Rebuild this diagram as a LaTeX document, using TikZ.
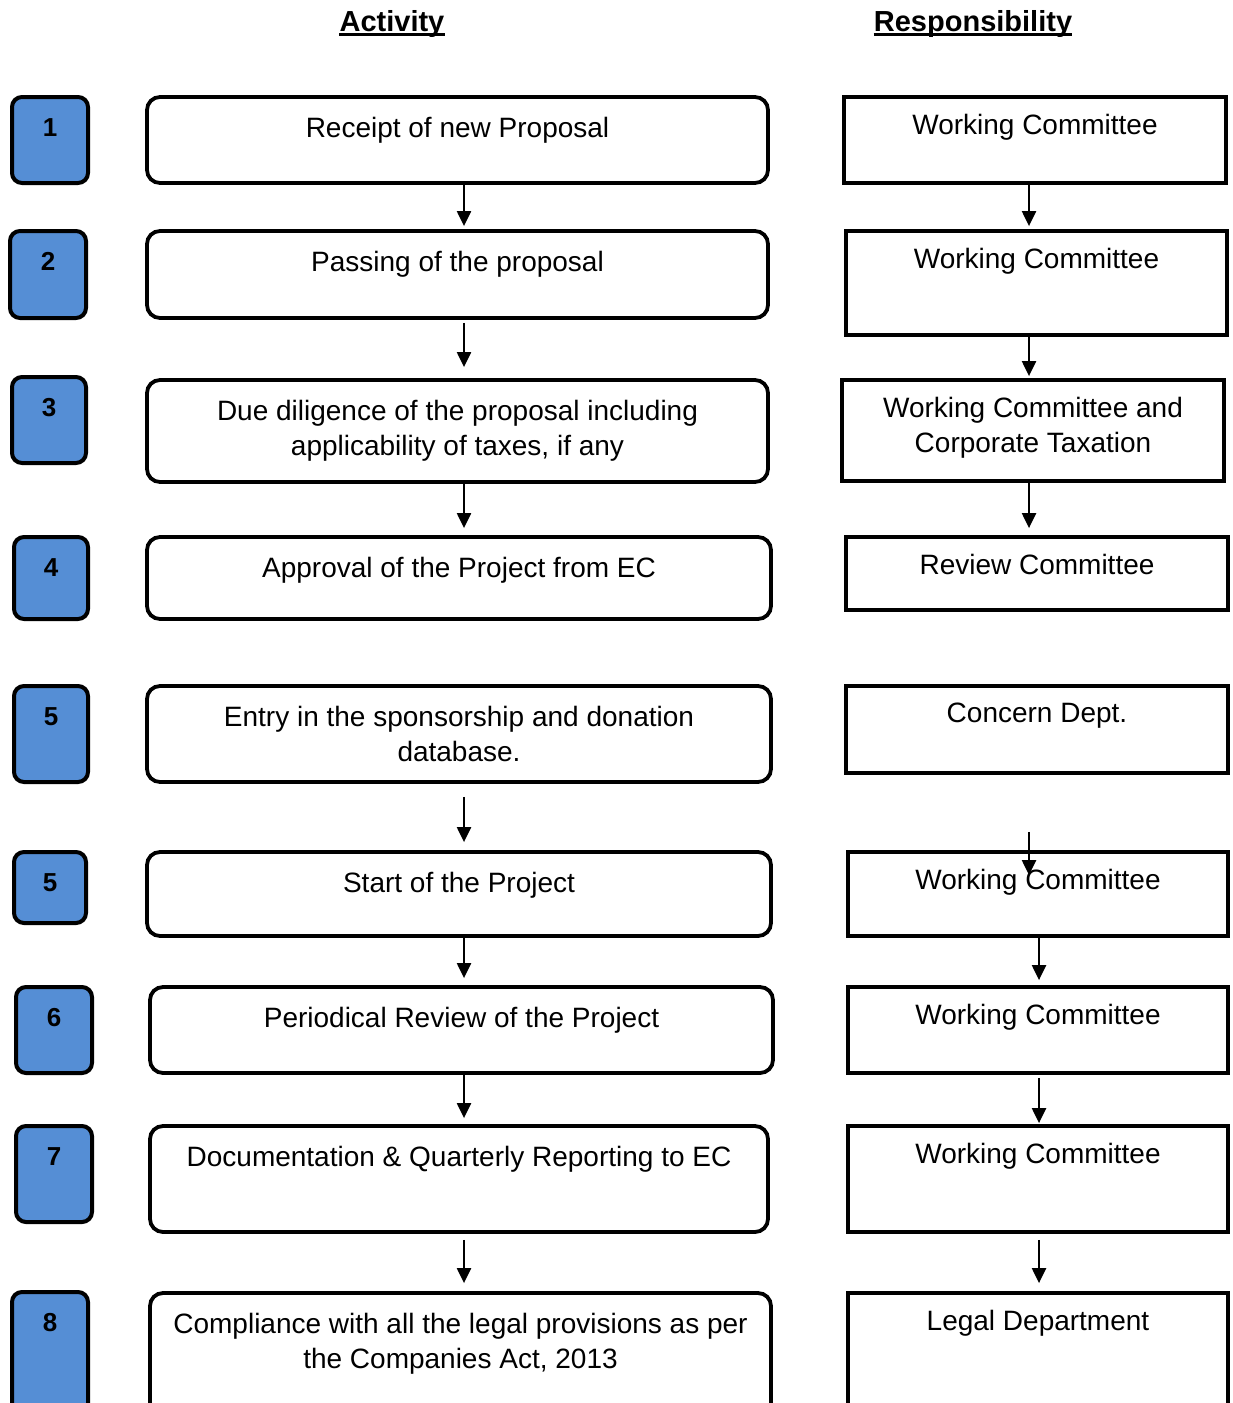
\documentclass[tikz,border=0pt]{standalone}
\usepackage{fontspec}
\setmainfont{Liberation Sans}
\usepackage{tikz}
\usetikzlibrary{positioning}
\usetikzlibrary{arrows.meta}
\definecolor{numblue}{RGB}{85,142,213}
\tikzset{>={Triangle[length=15pt 0 0,width=14pt 0 0]}}
\tikzset{numbox/.style={draw, line width=4pt, rounded corners=10pt, fill=numblue, inner sep=0pt},
  actbox/.style={draw, line width=3.8pt, rounded corners=13pt, inner sep=0pt},
  resbox/.style={draw, line width=3.8pt, inner sep=0pt},
  boxtext/.style={anchor=north, inner sep=0pt, align=center, font=\fontsize{28}{35}\selectfont},
  numtext/.style={anchor=north, inner sep=0pt, font=\bfseries\fontsize{26}{30}\selectfont},
  headtext/.style={anchor=base, inner sep=0pt, font=\bfseries\fontsize{29}{34}\selectfont},
  flow/.style={->, line width=2.2pt}}

\begin{document}
\begin{tikzpicture}[x=1pt, y=-1pt]
\useasboundingbox (0, 0) rectangle (1233, 1403);
\node[headtext] (hact) at (392, 31) {Activity};
\node[headtext] (hres) at (973, 31) {Responsibility};
\draw[line width=3pt] ([yshift=-3.5pt]hact.base west) -- ([yshift=-3.5pt]hact.base east);
\draw[line width=3pt] ([yshift=-3.5pt]hres.base west) -- ([yshift=-3.5pt]hres.base east);

\node[numbox, minimum width=76pt, minimum height=86pt] (n1) at (50, 140) {};
\node[numbox, minimum width=76pt, minimum height=87pt] (n2) at (48, 274.5) {};
\node[numbox, minimum width=74pt, minimum height=86pt] (n3) at (49, 420) {};
\node[numbox, minimum width=74pt, minimum height=82pt] (n4) at (51, 578) {};
\node[numbox, minimum width=74pt, minimum height=96pt] (n5) at (51, 734) {};
\node[numbox, minimum width=72pt, minimum height=71pt] (n6) at (50, 887.5) {};
\node[numbox, minimum width=76pt, minimum height=86pt] (n7) at (54, 1030) {};
\node[numbox, minimum width=76pt, minimum height=96pt] (n8) at (54, 1174) {};
\node[numbox, minimum width=76pt, minimum height=146pt] (n9) at (50, 1365) {};
\node[numtext] (k1) at ([yshift=-23pt]n1.north) {1};
\node[numtext] (k2) at ([yshift=-23pt]n2.north) {2};
\node[numtext] (k3) at ([yshift=-23pt]n3.north) {3};
\node[numtext] (k4) at ([yshift=-23pt]n4.north) {4};
\node[numtext] (k5) at ([yshift=-23pt]n5.north) {5};
\node[numtext] (k6) at ([yshift=-23pt]n6.north) {5};
\node[numtext] (k7) at ([yshift=-23pt]n7.north) {6};
\node[numtext] (k8) at ([yshift=-23pt]n8.north) {7};
\node[numtext] (k9) at ([yshift=-23pt]n9.north) {8};

\node[actbox, minimum width=621pt, minimum height=86pt] (a1) at (457.5, 140) {};
\node[actbox, minimum width=621pt, minimum height=87pt] (a2) at (457.5, 274.5) {};
\node[actbox, minimum width=621pt, minimum height=102pt] (a3) at (457.5, 431) {};
\node[actbox, minimum width=624pt, minimum height=82pt] (a4) at (459, 578) {};
\node[actbox, minimum width=624pt, minimum height=96pt] (a5) at (459, 734) {};
\node[actbox, minimum width=624pt, minimum height=84pt] (a6) at (459, 894) {};
\node[actbox, minimum width=623pt, minimum height=86pt] (a7) at (461.5, 1030) {};
\node[actbox, minimum width=618pt, minimum height=106pt] (a8) at (459, 1179) {};
\node[actbox, minimum width=621pt, minimum height=145pt] (a9) at (460.5, 1365.5) {};
\node[boxtext] (t1) at ([yshift=-22pt]a1.north) {Receipt of new Proposal};
\node[boxtext] (t2) at ([yshift=-22pt]a2.north) {Passing of the proposal};
\node[boxtext] (t3) at ([yshift=-22pt]a3.north) {Due diligence of the proposal including\\applicability of taxes, if any};
\node[boxtext] (t4) at ([yshift=-22pt]a4.north) {Approval of the Project from EC};
\node[boxtext] (t5) at ([yshift=-22pt]a5.north) {Entry in the sponsorship and donation\\database.};
\node[boxtext] (t6) at ([yshift=-22pt]a6.north) {Start of the Project};
\node[boxtext] (t7) at ([yshift=-22pt]a7.north) {Periodical Review of the Project};
\node[boxtext] (t8) at ([yshift=-22pt]a8.north) {Documentation \& Quarterly Reporting to EC};
\node[boxtext] (t9) at ([yshift=-22pt]a9.north) {Compliance with all the legal provisions as per\\the Companies Act, 2013};

\node[resbox, minimum width=382pt, minimum height=86pt] (b1) at (1035, 140) {};
\node[resbox, minimum width=381pt, minimum height=104pt] (b2) at (1036.5, 283) {};
\node[resbox, minimum width=382pt, minimum height=101pt] (b3) at (1033, 430.5) {};
\node[resbox, minimum width=382pt, minimum height=73pt] (b4) at (1037, 573.5) {};
\node[resbox, minimum width=382pt, minimum height=87pt] (b5) at (1037, 729.5) {};
\node[resbox, minimum width=380pt, minimum height=84pt] (b6) at (1038, 894) {};
\node[resbox, minimum width=380pt, minimum height=86pt] (b7) at (1038, 1030) {};
\node[resbox, minimum width=380pt, minimum height=106pt] (b8) at (1038, 1179) {};
\node[resbox, minimum width=380pt, minimum height=145pt] (b9) at (1038, 1365.5) {};
\node[boxtext] (s1) at ([yshift=-19pt]b1.north) {Working Committee};
\node[boxtext] (s2) at ([yshift=-19pt]b2.north) {Working Committee};
\node[boxtext] (s3) at ([yshift=-19pt]b3.north) {Working Committee and\\Corporate Taxation};
\node[boxtext] (s4) at ([yshift=-19pt]b4.north) {Review Committee};
\node[boxtext] (s5) at ([yshift=-19pt]b5.north) {Concern Dept.};
\node[boxtext] (s6) at ([yshift=-19pt]b6.north) {Working Committee};
\node[boxtext] (s7) at ([yshift=-19pt]b7.north) {Working Committee};
\node[boxtext] (s8) at ([yshift=-19pt]b8.north) {Working Committee};
\node[boxtext] (s9) at ([yshift=-19pt]b9.north) {Legal Department};

\coordinate (lx) at (464, 0);
\coordinate (rx) at (1029, 0);
\coordinate (ry) at (1039, 0);
\draw[flow, shorten >=3pt] (a1.south -| lx) -- (a2.north -| lx);
\draw[flow, shorten <=3pt, shorten >=11pt] (a2.south -| lx) -- (a3.north -| lx);
\draw[flow, shorten >=7pt] (a3.south -| lx) -- (a4.north -| lx);
\draw[flow, shorten <=13pt, shorten >=8pt] (a5.south -| lx) -- (a6.north -| lx);
\draw[flow, shorten >=7pt] (a6.south -| lx) -- (a7.north -| lx);
\draw[flow, shorten >=6pt] (a7.south -| lx) -- (a8.north -| lx);
\draw[flow, shorten <=6pt, shorten >=8pt] (a8.south -| lx) -- (a9.north -| lx);
\draw[flow, shorten <=-2pt, shorten >=3pt] (b1.south -| rx) -- (b2.north -| rx);
\draw[flow, shorten <=-2pt, shorten >=2pt] (b2.south -| rx) -- (b3.north -| rx);
\draw[flow, shorten >=7pt] (b3.south -| rx) -- (b4.north -| rx);
\draw[flow, shorten <=57pt, shorten >=-25pt] (b5.south -| rx) -- (b6.north -| rx);
\draw[flow, shorten >=5pt] (b6.south -| ry) -- (b7.north -| ry);
\draw[flow, shorten <=3pt, shorten >=1pt] (b7.south -| ry) -- (b8.north -| ry);
\draw[flow, shorten <=6pt, shorten >=8pt] (b8.south -| ry) -- (b9.north -| ry);
\end{tikzpicture}
\end{document}
